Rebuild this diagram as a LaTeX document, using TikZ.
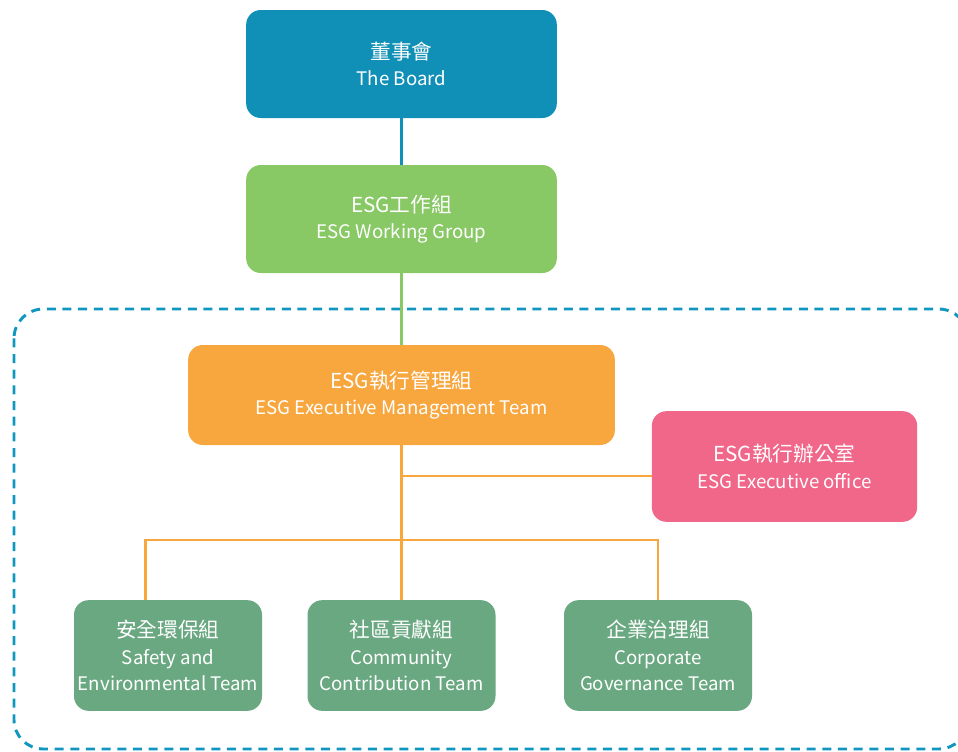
\documentclass[tikz,border=0pt]{standalone}
\usepackage{fontspec}
\setmainfont{Noto Sans CJK TC}
\usepackage{tikz}

\definecolor{boardblue}{HTML}{1190B7}
\definecolor{wggreen}{HTML}{88C865}
\definecolor{mgmtorange}{HTML}{F8A73F}
\definecolor{officepink}{HTML}{F0678A}
\definecolor{teamgreen}{HTML}{6AA882}
\definecolor{dashblue}{HTML}{1196BF}

\newcommand{\zhline}[1]{{\fontsize{15.5}{20}\selectfont #1}}

\tikzset{
    orgbox/.style={rectangle, rounded corners=11pt, inner sep=0pt, align=center,
        text=white, font=\fontsize{14}{20}\selectfont},
    teambox/.style={orgbox, fill=teamgreen, minimum width=141pt, minimum height=83pt},
    link/.style={line width=2.2pt}
}

\begin{document}
\begin{tikzpicture}[x=0.75pt, y=-0.75pt]
        \useasboundingbox (0,0) rectangle (958,751);

        \draw[dashblue, line width=2.2pt, dash pattern=on 6.75pt off 5pt, rounded corners=22pt]
            (14,309) rectangle (968,749);

        \node[orgbox, fill=boardblue, minimum width=233pt, minimum height=81pt] (board) at (401.5,64) {\zhline{董事會}\\The Board};
        \node[orgbox, fill=wggreen, minimum width=233pt, minimum height=81pt] (wg) at (401.5,219) {\zhline{ESG工作組}\\ESG Working Group};
        \node[orgbox, fill=mgmtorange, minimum width=320pt, minimum height=75pt] (mgmt) at (401.5,395) {\zhline{ESG執行管理組}\\ESG Executive Management Team};
        \node[orgbox, fill=officepink, minimum width=199pt, minimum height=83pt] (office) at (784.5,466.5) {\zhline{ESG執行辦公室}\\ESG Executive office};
        \node[teambox] (safety) at (168,655.5) {\zhline{安全環保組}\\Safety and\\Environmental Team};
        \node[teambox] (community) at (401.5,655.5) {\zhline{社區貢獻組}\\Community\\Contribution Team};
        \node[teambox] (corporate) at (658,655.5) {\zhline{企業治理組}\\Corporate\\Governance Team};

        \coordinate (tap) at (401.5,476);
        \coordinate (bus) at (401.5,540);

        \draw[link, boardblue] (board) -- (wg);
        \draw[link, wggreen] (wg) -- (mgmt);
        \draw[link, mgmtorange] (mgmt) -- (community);
        \draw[link, mgmtorange] (tap) -- (tap -| office.west);
        \draw[link, mgmtorange] ([xshift=-17pt]safety.north) |- (corporate.north |- bus) -- (corporate.north);
    \end{tikzpicture}
\end{document}
